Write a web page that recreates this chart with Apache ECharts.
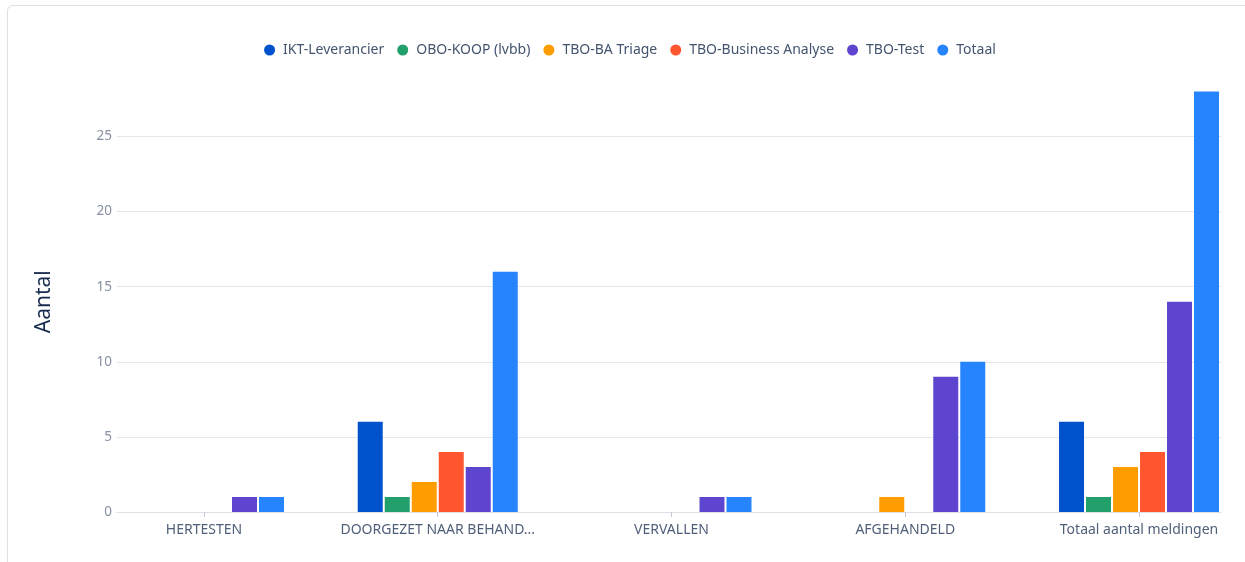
<!DOCTYPE html>
<html>
<head>
<meta charset="utf-8">
<script src="https://cdn.jsdelivr.net/npm/echarts@6/dist/echarts.min.js"></script>
<style>
html,body{margin:0;padding:0;background:#fff;overflow:hidden;width:1245px;height:562px;}
#chart{position:absolute;left:0;top:0;width:1260px;height:562px;}
#card{position:absolute;left:7px;top:5px;width:1260px;height:600px;border:1px solid #dcdfe4;border-radius:6px;pointer-events:none;}
</style>
</head>
<body>
<div id="card"></div>
<div id="chart"></div>
<script>
const categories = ['HERTESTEN', 'DOORGEZET NAAR BEHANDELAAR', 'VERVALLEN', 'AFGEHANDELD', 'Totaal aantal meldingen'];
const seriesNames = ['IKT-Leverancier', 'OBO-KOOP (lvbb)', 'TBO-BA Triage', 'TBO-Business Analyse', 'TBO-Test', 'Totaal'];
const iktLeverancier = [0, 6, 0, 0, 6];
const oboKoop = [0, 1, 0, 0, 1];
const tboBaTriage = [0, 2, 0, 1, 3];
const tboBusinessAnalyse = [0, 4, 0, 0, 4];
const tboTest = [1, 3, 1, 9, 14];
const totaal = [1, 16, 1, 10, 28];
const colors = ['#0052cc', '#22a06b', '#ff9d00', '#ff5630', '#5e45d0', '#2684ff'];
const allValues = [iktLeverancier, oboKoop, tboBaTriage, tboBusinessAnalyse, tboTest, totaal];

const chart = echarts.init(document.getElementById('chart'), null, {renderer: 'canvas'});
const font = '"Noto Sans", sans-serif';
const option = {
  animation: false,
  color: colors,
  textStyle: {fontFamily: font},
  legend: {
    top: 38,
    left: 'center',
    icon: 'circle',
    itemWidth: 11,
    itemHeight: 11,
    itemGap: 13,
    textStyle: {fontSize: 14, color: '#44546f', fontFamily: font, padding: [0, 0, 0, 3]},
    data: seriesNames
  },
  grid: [
    {left: 87.1, right: 4.1, top: 91.4, bottom: 50},
    {left: 117, right: 39, top: 91.4, bottom: 50}
  ],
  xAxis: [
    {
      type: 'category', gridIndex: 0, data: categories,
      axisLine: {show: false},
      axisTick: {show: true, alignWithLabel: true, interval: 0, length: 5, lineStyle: {color: '#c1c7d0'}},
      axisLabel: {
        interval: 0, hideOverlap: false,
        margin: 11, fontSize: 14, color: '#505f79', fontFamily: font,
        formatter: function (v) { return v.length > 24 ? v.slice(0, 21) + '...' : v; }
      },
      splitLine: {show: false}
    },
    {
      type: 'value', gridIndex: 1, min: 0, max: 1,
      axisLine: {show: true, lineStyle: {color: '#dfe1e6'}},
      axisTick: {show: false}, axisLabel: {show: false}, splitLine: {show: false}
    }
  ],
  yAxis: [
    {type: 'value', gridIndex: 0, min: 0, max: 28, show: false, splitLine: {show: false}},
    {
      type: 'value', gridIndex: 1, min: 0, max: 28, interval: 5,
      name: 'Aantal', nameLocation: 'middle', nameGap: 62,
      nameTextStyle: {fontSize: 21, color: '#172b4d', fontFamily: font},
      axisLine: {show: false}, axisTick: {show: false},
      axisLabel: {margin: 5, fontSize: 13.5, color: '#8590a2', fontFamily: font, showMaxLabel: false},
      splitLine: {show: true, showMaxLine: false, lineStyle: {color: '#e4e6ea', width: 1}}
    }
  ],
  series: seriesNames.map(function (name, i) {
    return {
      name: name, type: 'bar', xAxisIndex: 0, yAxisIndex: 0,
      data: allValues[i],
      barWidth: 25, barGap: '8%',
      itemStyle: {color: colors[i]}
    };
  })
};
chart.setOption(option);
</script>
</body>
</html>
